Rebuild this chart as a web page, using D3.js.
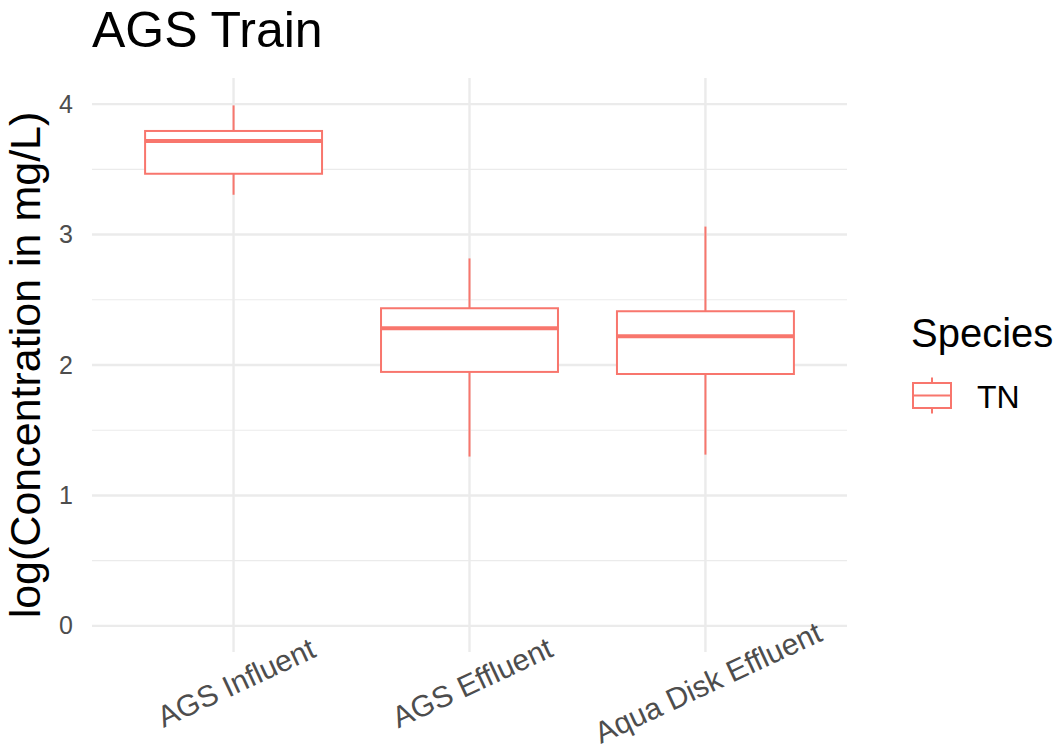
<!DOCTYPE html>
<html><head><meta charset="utf-8">
<script src="https://cdn.jsdelivr.net/npm/d3@7"></script>
<style>body{margin:0;background:#fff}text{font-family:"Liberation Sans",Arial,sans-serif}</style>
</head><body>
<svg id="c" width="1061" height="750"></svg>
<script>
const categories = ["AGS Influent", "AGS Effluent", "Aqua Disk Effluent"];
const whiskerLow = [3.305, 1.298, 1.313];
const q1 = [3.466, 1.947, 1.931];
const median = [3.718, 2.282, 2.221];
const q3 = [3.794, 2.435, 2.412];
const whiskerHigh = [3.99, 2.817, 3.061];
const yTicks = [0, 1, 2, 3, 4];
const yMinor = [0.5, 1.5, 2.5, 3.5];
const seriesName = "TN";
const legendTitle = "Species";
const color = "#F8766D";

const svg = d3.select("#c");
const L = 92, R = 847, T = 78, B = 652;
const y = d3.scaleLinear().domain([-0.2, 4.2]).range([B, T]);
const x = d3.scalePoint().domain(categories).range([L, R]).padding(0.6);
const step = x.step();
const bw = step * 0.75;

// grid
svg.append("g").selectAll("line").data(yMinor).join("line")
  .attr("x1", L).attr("x2", R).attr("y1", d => y(d)).attr("y2", d => y(d))
  .attr("stroke", "#ebebeb").attr("stroke-width", 1.2);
svg.append("g").selectAll("line").data(yTicks).join("line")
  .attr("x1", L).attr("x2", R).attr("y1", d => y(d)).attr("y2", d => y(d))
  .attr("stroke", "#ebebeb").attr("stroke-width", 2.4);
svg.append("g").selectAll("line").data(categories).join("line")
  .attr("x1", d => x(d)).attr("x2", d => x(d)).attr("y1", T).attr("y2", B)
  .attr("stroke", "#ebebeb").attr("stroke-width", 2.4);

// y axis labels
const yAxis = d3.axisLeft(y).tickValues(yTicks).tickSize(0).tickPadding(0).tickFormat(d3.format("d"));
const ga = svg.append("g").attr("transform", `translate(73,0)`).call(yAxis);
ga.select(".domain").remove();
ga.selectAll("text").attr("font-size", 25).attr("fill", "#4d4d4d").attr("font-family", "Liberation Sans, Arial, sans-serif");

// x axis labels
const xAxis = d3.axisBottom(x).tickSize(0).tickPadding(0);
const gx = svg.append("g").call(xAxis);
gx.select(".domain").remove();
gx.selectAll(".tick").attr("transform", null);
gx.selectAll("text").attr("font-size", 30).attr("fill", "#4d4d4d")
  .attr("font-family", "Liberation Sans, Arial, sans-serif")
  .attr("text-anchor", "middle").attr("dy", null).attr("y", null)
  .attr("transform", d => `translate(${x(d) + 7},692) rotate(-25)`);

// boxes
const g = svg.append("g");
categories.forEach((c, i) => {
  const cx = x(c);
  g.append("line").attr("x1", cx).attr("x2", cx).attr("y1", y(q3[i])).attr("y2", y(whiskerHigh[i]))
    .attr("stroke", color).attr("stroke-width", 2);
  g.append("line").attr("x1", cx).attr("x2", cx).attr("y1", y(q1[i])).attr("y2", y(whiskerLow[i]))
    .attr("stroke", color).attr("stroke-width", 2);
  g.append("rect").attr("x", cx - bw / 2).attr("width", bw)
    .attr("y", y(q3[i])).attr("height", y(q1[i]) - y(q3[i]))
    .attr("fill", "white").attr("stroke", color).attr("stroke-width", 2);
  g.append("line").attr("x1", cx - bw / 2).attr("x2", cx + bw / 2).attr("y1", y(median[i])).attr("y2", y(median[i]))
    .attr("stroke", color).attr("stroke-width", 4);
});

// title
svg.append("text").attr("x", 92).attr("y", 47).attr("font-size", 50).attr("fill", "#000").text("AGS Train");
// y title
svg.append("text").attr("transform", `translate(40,${(T + B) / 2}) rotate(-90)`)
  .attr("text-anchor", "middle").attr("font-size", 43).attr("fill", "#000").text("log(Concentration in mg/L)");

// legend
svg.append("text").attr("x", 911).attr("y", 347).attr("font-size", 40).attr("fill", "#000").text(legendTitle);
const lg = svg.append("g");
const kx = 932, ky = 395.5;
lg.append("line").attr("x1", kx).attr("x2", kx).attr("y1", ky - 18).attr("y2", ky + 18).attr("stroke", color).attr("stroke-width", 2);
lg.append("rect").attr("x", kx - 19).attr("y", ky - 12.5).attr("width", 38).attr("height", 25)
  .attr("fill", "white").attr("stroke", color).attr("stroke-width", 2);
lg.append("line").attr("x1", kx - 19).attr("x2", kx + 19).attr("y1", ky).attr("y2", ky).attr("stroke", color).attr("stroke-width", 2);
svg.append("text").attr("x", 977).attr("y", 408).attr("font-size", 32).attr("fill", "#000").text(seriesName);
</script>
</body></html>
